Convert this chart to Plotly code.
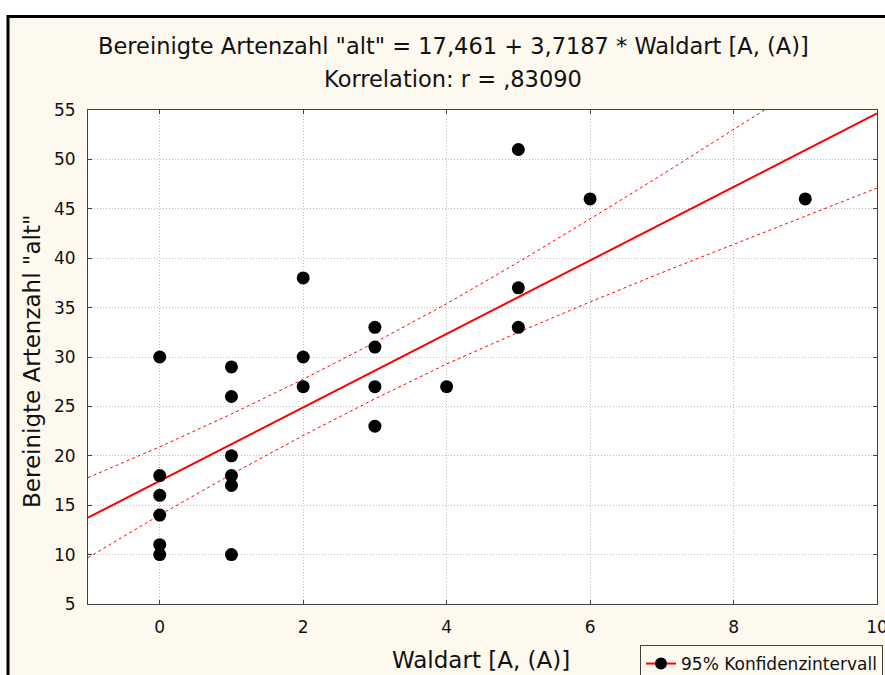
import plotly.graph_objects as go

# ---- data ----
waldart = [0, 0, 0, 0, 0, 0, 1, 1, 1, 1, 1, 1, 2, 2, 2, 3, 3, 3, 3, 4, 5, 5, 5, 6, 9]
artenzahl = [30, 18, 16, 14, 11, 10, 29, 26, 20, 18, 17, 10, 38, 30, 27, 33, 31, 27, 23, 27, 51, 37, 33, 46, 46]

intercept = 17.461
slope = 3.7187
fit_x = [-1, 10]

ci_x = [-1, 0, 1, 2, 3, 4, 5, 6, 7, 8, 9, 10]
ci_upper = [17.79, 20.91, 24.23, 27.75, 31.47, 35.39, 39.60, 43.97, 48.44, 53.01, 57.58, 62.2]
ci_lower = [9.69, 14.01, 18.13, 22.05, 25.77, 29.29, 32.50, 35.57, 38.54, 41.41, 44.28, 47.10]

x_ticks = [0, 2, 4, 6, 8, 10]
y_ticks = [5, 10, 15, 20, 25, 30, 35, 40, 45, 50, 55]

title1 = 'Bereinigte Artenzahl "alt" = 17,461 + 3,7187 * Waldart [A, (A)]'
title2 = 'Korrelation: r = ,83090'
x_title = 'Waldart [A, (A)]'
y_title = 'Bereinigte Artenzahl "alt"'
legend_name = '95% Konfidenzintervall'

FONT = 'DejaVu Sans'
CREAM = '#FDF9EF'
AX = '#404040'

fit_y = [intercept + slope * v for v in fit_x]

fig = go.Figure()
fig.add_trace(go.Scatter(x=ci_x, y=ci_upper, mode='lines', showlegend=False,
                         line=dict(color='#FF0000', width=1, dash='3px,3px'), hoverinfo='skip'))
fig.add_trace(go.Scatter(x=ci_x, y=ci_lower, mode='lines', showlegend=False,
                         line=dict(color='#FF0000', width=1, dash='3px,3px'), hoverinfo='skip'))
fig.add_trace(go.Scatter(x=fit_x, y=fit_y, mode='lines', showlegend=False,
                         line=dict(color='#FF0000', width=2)))
fig.add_trace(go.Scatter(x=waldart, y=artenzahl, mode='markers', showlegend=False,
                         marker=dict(color='black', size=13)))
fig.add_trace(go.Scatter(x=[None], y=[None], mode='lines+markers', name=legend_name,
                         line=dict(color='#FF0000', width=2),
                         marker=dict(color='black', size=12)))

L, R, T, B = 88, 8, 110, 71
W, H = 885, 675
pw, ph = W - L - R, H - T - B


def px_x(p):
    return (p - L) / pw


def px_y(p):
    return (H - B - p) / ph


# outer frame (cream with black border) and white plot area
fig.add_shape(type='rect', xref='paper', yref='paper', layer='below',
              x0=px_x(8), x1=px_x(905), y0=px_y(700), y1=px_y(16.5),
              fillcolor=CREAM, line=dict(color='black', width=3))
fig.add_shape(type='rect', xref='paper', yref='paper', layer='below',
              x0=0, x1=1, y0=0, y1=1, fillcolor='white', line=dict(width=0))

fig.add_annotation(text=title1, xref='paper', yref='paper', x=px_x(453), y=px_y(46),
                   xanchor='center', yanchor='middle', showarrow=False,
                   font=dict(family=FONT, size=22.5, color='#111111'))
fig.add_annotation(text=title2, xref='paper', yref='paper', x=px_x(453), y=px_y(79),
                   xanchor='center', yanchor='middle', showarrow=False,
                   font=dict(family=FONT, size=22.5, color='#111111'))
fig.add_annotation(text=x_title, xref='paper', yref='paper', x=px_x(481), y=px_y(660),
                   xanchor='center', yanchor='middle', showarrow=False,
                   font=dict(family=FONT, size=23, color='#111111'))
fig.add_annotation(text=y_title, xref='paper', yref='paper', x=px_x(32), y=px_y(361),
                   xanchor='center', yanchor='middle', showarrow=False, textangle=-90,
                   font=dict(family=FONT, size=23, color='#111111'))

axis_common = dict(showline=True, linecolor=AX, linewidth=1, mirror='ticks',
                   ticks='inside', ticklen=4, tickcolor=AX, tickwidth=1,
                   showgrid=True, gridcolor='#BDBDBD', griddash='1px,2px', gridwidth=1,
                   zeroline=False, ticklabeloverflow='allow',
                   tickfont=dict(family=FONT, size=17, color='#111111'))

fig.update_xaxes(range=[-1, 10], tickvals=x_ticks, ticklabelstandoff=8, **axis_common)
fig.update_yaxes(range=[5, 55], tickvals=y_ticks, ticklabelstandoff=8, **axis_common)

fig.update_layout(
    width=W, height=H,
    margin=dict(l=L, r=R, t=T, b=B, autoexpand=False),
    paper_bgcolor='white', plot_bgcolor='white',
    showlegend=True,
    legend=dict(x=px_x(883), y=px_y(645), xanchor='right', yanchor='top',
                bgcolor=CREAM, bordercolor=AX, borderwidth=1,
                font=dict(family=FONT, size=17, color='#111111'),
                itemwidth=30, tracegroupgap=0),
    font=dict(family=FONT),
)

fig.write_html('out.html')
